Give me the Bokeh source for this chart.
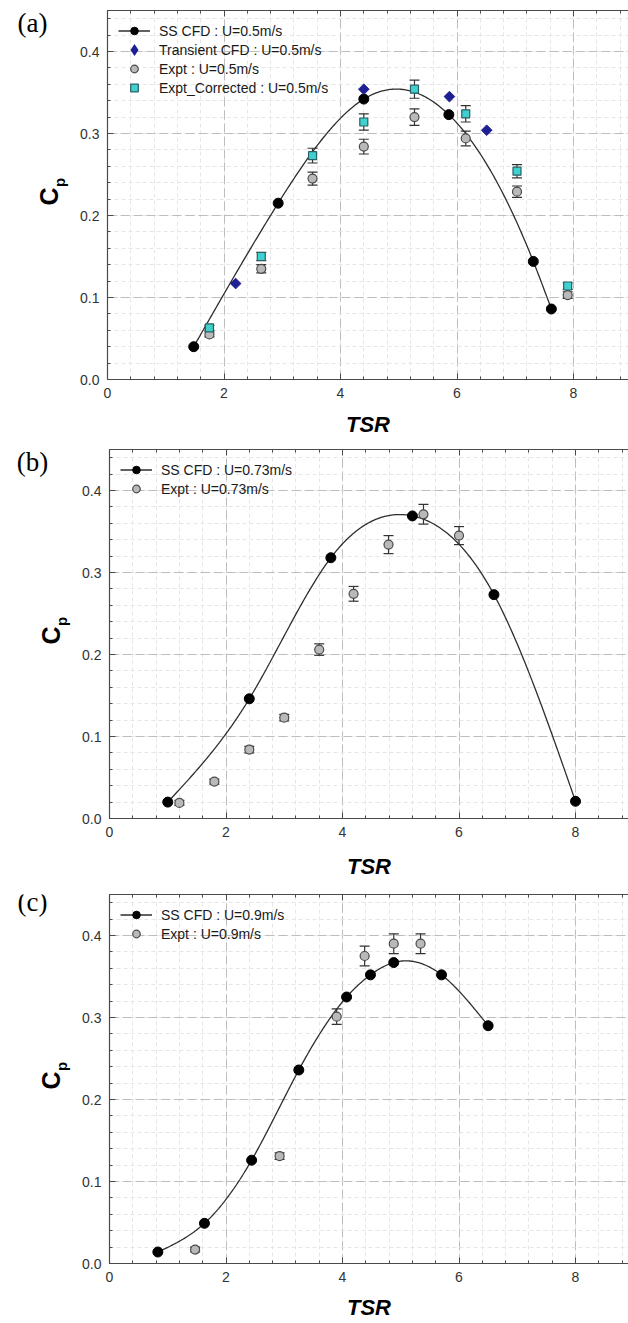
import numpy as np
from bokeh.plotting import figure
from bokeh.models import (Range1d, SingleIntervalTicker, LinearAxis, Legend, LegendItem,
                          ColumnDataSource, Whisker, TeeHead, NumeralTickFormatter)
from bokeh.core.properties import value
from bokeh.layouts import column, row
from bokeh.embed import file_html
from bokeh.resources import INLINE

# ---------------- data ----------------
# Panel (a): U = 0.5 m/s
a_cfd_tsr = [1.48, 2.93, 4.40, 5.86, 7.31, 7.62]
a_cfd_cp = [0.040, 0.215, 0.342, 0.323, 0.144, 0.086]
a_tr_tsr = [2.20, 4.40, 5.87, 6.51]
a_tr_cp = [0.117, 0.354, 0.345, 0.304]
a_exp_tsr = [1.75, 2.64, 3.52, 4.40, 5.27, 6.15, 7.03, 7.90]
a_exp_cp = [0.055, 0.135, 0.245, 0.284, 0.320, 0.294, 0.229, 0.103]
a_exp_err = [0.003, 0.005, 0.008, 0.009, 0.010, 0.009, 0.007, 0.004]
a_cor_cp = [0.063, 0.150, 0.273, 0.314, 0.354, 0.324, 0.254, 0.114]
a_cor_err = [0.003, 0.005, 0.009, 0.010, 0.011, 0.010, 0.008, 0.004]

# Panel (b): U = 0.73 m/s
b_cfd_tsr = [1.0, 2.4, 3.8, 5.2, 6.6, 8.0]
b_cfd_cp = [0.020, 0.146, 0.318, 0.369, 0.273, 0.021]
b_exp_tsr = [1.20, 1.80, 2.40, 3.00, 3.60, 4.19, 4.79, 5.39, 6.00]
b_exp_cp = [0.019, 0.045, 0.084, 0.123, 0.206, 0.274, 0.334, 0.371, 0.345]
b_exp_err = [0.003, 0.003, 0.004, 0.004, 0.007, 0.009, 0.011, 0.012, 0.011]

# Panel (c): U = 0.9 m/s
c_cfd_tsr = [0.83, 1.63, 2.44, 3.25, 4.07, 4.48, 4.88, 5.70, 6.50]
c_cfd_cp = [0.014, 0.049, 0.126, 0.236, 0.325, 0.352, 0.367, 0.352, 0.290]
c_exp_tsr = [1.47, 2.92, 3.90, 4.38, 4.88, 5.34]
c_exp_cp = [0.017, 0.131, 0.301, 0.375, 0.390, 0.390]
c_exp_err = [0.003, 0.004, 0.0095, 0.012, 0.012, 0.012]

x_tick_interval = 2
y_tick_interval = 0.1

FONT = "Liberation Sans"
AX = "#4a4a4a"
PAGE_W = 628
STRIP_W = 75
PX_PER_TSR = 58.25
FRAME_H = 369


def spline(xs, ys, n=300):
    """Natural cubic spline through the points (rendering of the smoothed line)."""
    x = np.asarray(xs, float)
    y = np.asarray(ys, float)
    k = len(x)
    h = np.diff(x)
    A = np.zeros((k, k))
    b = np.zeros(k)
    A[0, 0] = A[-1, -1] = 1.0
    for i in range(1, k - 1):
        A[i, i - 1] = h[i - 1]
        A[i, i] = 2 * (h[i - 1] + h[i])
        A[i, i + 1] = h[i]
        b[i] = 3 * ((y[i + 1] - y[i]) / h[i] - (y[i] - y[i - 1]) / h[i - 1])
    c = np.linalg.solve(A, b)
    bb = (y[1:] - y[:-1]) / h - h * (2 * c[:-1] + c[1:]) / 3
    d = (c[1:] - c[:-1]) / (3 * h)
    xx = np.linspace(x[0], x[-1], n)
    idx = np.clip(np.searchsorted(x, xx) - 1, 0, k - 2)
    dx = xx - x[idx]
    yy = y[idx] + bb[idx] * dx + c[idx] * dx ** 2 + d[idx] * dx ** 3
    return xx, yy


def style_axis(ax, labels=True):
    ax.axis_line_color = AX
    ax.axis_line_width = 1.2
    ax.major_tick_line_color = AX
    ax.minor_tick_line_color = AX
    ax.major_tick_in = 6
    ax.major_tick_out = 0
    ax.minor_tick_in = 3
    ax.minor_tick_out = 0
    ax.major_label_text_font = FONT
    if labels:
        ax.major_label_text_color = "#333333"
        ax.major_label_text_font_size = "14px"
        ax.major_label_standoff = 8
    else:
        ax.major_label_text_color = None
        ax.major_label_text_font_size = "1px"
        ax.major_label_standoff = 0


def make_strip(border_top, border_bottom, frame_left, tag, tag_dy):
    """Left strip (same frame height as the panel) holding the tag and the C_p title.
    y is measured in pixels up from the panel's frame bottom."""
    s = figure(frame_width=STRIP_W, frame_height=FRAME_H,
               x_range=Range1d(0, STRIP_W), y_range=Range1d(0, FRAME_H),
               x_axis_type=None, y_axis_type=None,
               output_backend="svg", toolbar_location=None,
               min_border_left=0, min_border_right=0,
               min_border_top=border_top, min_border_bottom=border_bottom)
    s.outline_line_color = None
    s.grid.visible = False
    s.text(x=[32], y=[FRAME_H - tag_dy], text=[tag],
           text_font=value("Liberation Serif"), text_font_size="27px",
           text_align="center", text_baseline="middle", text_color="black")
    s.text(x=[frame_left - 59], y=[FRAME_H - 186], text=["C"], angle=np.pi / 2,
           text_font=value(FONT), text_font_style="bold", text_font_size="25px",
           text_align="center", text_baseline="middle", text_color="black")
    s.text(x=[frame_left - 48], y=[FRAME_H - 172], text=["p"], angle=np.pi / 2,
           text_font=value(FONT), text_font_style="bold", text_font_size="15px",
           text_align="center", text_baseline="middle", text_color="black")
    return s


def make_panel(frame_left, border_top, border_bottom, tsr_standoff):
    fw = PAGE_W - frame_left
    xmax = fw / PX_PER_TSR
    p = figure(frame_width=fw, frame_height=FRAME_H,
               x_range=Range1d(0, xmax), y_range=Range1d(0, 0.45),
               output_backend="svg", toolbar_location=None,
               min_border_left=frame_left - STRIP_W, min_border_right=0,
               min_border_top=border_top, min_border_bottom=border_bottom)
    p.outline_line_color = None
    p.background_fill_color = "white"
    p.border_fill_color = "white"

    xt = SingleIntervalTicker(interval=x_tick_interval, num_minor_ticks=5)
    yt = SingleIntervalTicker(interval=y_tick_interval, num_minor_ticks=5)
    p.xaxis.ticker = xt
    p.yaxis.ticker = yt
    p.yaxis.formatter = NumeralTickFormatter(format="0.0")
    style_axis(p.xaxis[0])
    style_axis(p.yaxis[0])
    xa = p.xaxis[0]
    xa.axis_label = "TSR"
    xa.axis_label_text_font = FONT
    xa.axis_label_text_font_style = "bold italic"
    xa.axis_label_text_font_size = "22px"
    xa.axis_label_text_color = "black"
    xa.axis_label_standoff = tsr_standoff

    top_axis = LinearAxis(ticker=xt)
    style_axis(top_axis, labels=False)
    p.add_layout(top_axis, "above")

    for g in (p.xgrid[0], p.ygrid[0]):
        g.grid_line_color = "#bdbdbd"
        g.grid_line_dash = "9 4"
        g.grid_line_width = 1
        g.minor_grid_line_color = "#e6e6e6"
        g.minor_grid_line_dash = "4 3"
        g.minor_grid_line_width = 1
    return p


def add_errors(p, xs, ys, errs, color="#333333"):
    src = ColumnDataSource(dict(x=xs,
                                lower=[v - e for v, e in zip(ys, errs)],
                                upper=[v + e for v, e in zip(ys, errs)]))
    w = Whisker(source=src, base="x", lower="lower", upper="upper", dimension="height",
                line_color=color, line_width=1.2,
                upper_head=TeeHead(size=10, line_color=color, line_width=1.2),
                lower_head=TeeHead(size=10, line_color=color, line_width=1.2),
                level="underlay")
    p.add_layout(w)


def add_cfd(p, xs, ys):
    sx, sy = spline(xs, ys)
    ln = p.line(sx, sy, line_color="#2e2e2e", line_width=1.3)
    sc = p.scatter(xs, ys, marker="circle", size=10, fill_color="black", line_color="black")
    return [ln, sc]


def add_legend(p, items):
    lg = Legend(items=items, location="top_left", glyph_width=32, glyph_height=19,
                label_height=19, spacing=0, padding=0, margin=11, label_standoff=9,
                border_line_color=None, background_fill_alpha=0,
                label_text_font=FONT, label_text_font_size="14px", label_text_color="#1a1a1a")
    p.add_layout(lg)


GREY_FILL = "#b9b9b9"
GREY_EDGE = "#4a4a4a"
NAVY = "#1f1f94"

# ---------------- panel (a) ----------------
pa = make_panel(107, 10, 61, 11)
a_cfd = add_cfd(pa, a_cfd_tsr, a_cfd_cp)
# legend swatch for the diamonds (legend swatches ignore marker rotation):
# same points, drawn at zero size under the visible diamonds, only its legend key shows
a_tr_key = pa.scatter(a_tr_tsr, a_tr_cp, marker="diamond", size=0, fill_color=NAVY,
                      line_color=NAVY, line_width=2.5, line_join="miter")
a_tr = pa.scatter(a_tr_tsr, a_tr_cp, marker="square", angle=np.pi / 4, size=7.5,
                  fill_color=NAVY, line_color=NAVY)
add_errors(pa, a_exp_tsr, a_exp_cp, a_exp_err)
add_errors(pa, a_exp_tsr, a_cor_cp, a_cor_err)
a_ex = pa.scatter(a_exp_tsr, a_exp_cp, marker="circle", size=9, fill_color=GREY_FILL,
                  line_color=GREY_EDGE, line_width=1.2)
a_co = pa.scatter(a_exp_tsr, a_cor_cp, marker="square", size=8, fill_color="#3fd0cf",
                  line_color="#2b5f62", line_width=1.2)
add_legend(pa, [LegendItem(label="SS CFD : U=0.5m/s", renderers=a_cfd),
                LegendItem(label="Transient CFD : U=0.5m/s", renderers=[a_tr_key]),
                LegendItem(label="Expt : U=0.5m/s", renderers=[a_ex]),
                LegendItem(label="Expt_Corrected : U=0.5m/s", renderers=[a_co])])
sa = make_strip(10, 61, 107, "(a)", 12)

# ---------------- panel (b) ----------------
pb = make_panel(109, 9, 66, 14)
b_cfd = add_cfd(pb, b_cfd_tsr, b_cfd_cp)
add_errors(pb, b_exp_tsr, b_exp_cp, b_exp_err)
b_ex = pb.scatter(b_exp_tsr, b_exp_cp, marker="circle", size=9, fill_color=GREY_FILL,
                  line_color=GREY_EDGE, line_width=1.2)
add_legend(pb, [LegendItem(label="SS CFD : U=0.73m/s", renderers=b_cfd),
                LegendItem(label="Expt : U=0.73m/s", renderers=[b_ex])])
sb = make_strip(9, 66, 109, "(b)", 12)

# ---------------- panel (c) ----------------
pc = make_panel(109, 10, 60, 10)
c_cfd = add_cfd(pc, c_cfd_tsr, c_cfd_cp)
add_errors(pc, c_exp_tsr, c_exp_cp, c_exp_err)
c_ex = pc.scatter(c_exp_tsr, c_exp_cp, marker="circle", size=9, fill_color=GREY_FILL,
                  line_color=GREY_EDGE, line_width=1.2)
add_legend(pc, [LegendItem(label="SS CFD : U=0.9m/s", renderers=c_cfd),
                LegendItem(label="Expt : U=0.9m/s", renderers=[c_ex])])
sc_ = make_strip(10, 60, 109, "(c)", 7)

layout = column(row(sa, pa, spacing=0), row(sb, pb, spacing=0), row(sc_, pc, spacing=0),
                spacing=0)
open("out.html", "w").write(file_html(layout, INLINE))
